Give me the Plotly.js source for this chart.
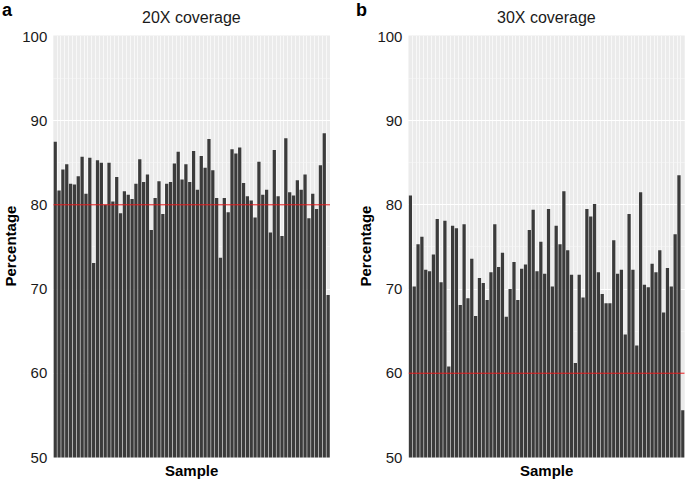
<!DOCTYPE html>
<html>
<head>
<meta charset="utf-8">
<script src="https://cdn.plot.ly/plotly-3.0.1.min.js"></script>
<style>
  body { margin: 0; background: #fff; }
  #graph { width: 685px; height: 480px; }
</style>
</head>
<body>
<div id="graph"></div>
<script>
// Per-sample coverage percentages.

const cov20 = [
  87.5, 81.7, 84.2, 84.8, 82.5, 82.4, 83.4, 85.7, 81.3, 85.6,
  73.1, 85.3, 85.0, 80.0, 85.0, 80.4, 83.3, 79.0, 81.6, 81.2,
  80.7, 82.5, 85.4, 82.7, 83.6, 77.0, 80.8, 82.8, 78.9, 82.5,
  82.7, 84.9, 86.3, 83.0, 84.8, 82.7, 86.4, 81.8, 85.8, 84.4,
  87.8, 84.1, 80.8, 73.7, 80.8, 79.1, 86.6, 86.1, 86.8, 82.6,
  81.0, 80.5, 78.5, 85.1, 81.2, 81.8, 76.7, 86.5, 81.0, 76.3,
  87.9, 81.5, 81.1, 82.9, 81.8, 83.6, 78.4, 81.3, 79.5, 84.7,
  88.5, 69.3,
];

const cov30 = [
  81.1, 70.3, 75.3, 76.2, 72.3, 72.1, 74.1, 78.3, 70.8, 78.1,
  60.8, 77.5, 77.2, 68.1, 77.7, 68.9, 73.6, 66.8, 71.3, 70.7,
  68.7, 72.0, 77.7, 72.6, 74.3, 66.7, 70.0, 73.2, 68.7, 72.4,
  72.9, 77.0, 79.4, 72.1, 75.6, 71.8, 79.5, 70.3, 77.5, 75.3,
  81.6, 74.6, 71.7, 61.2, 71.7, 69.0, 79.5, 78.6, 80.1, 72.0,
  69.4, 68.3, 68.3, 75.8, 71.8, 72.3, 64.6, 78.9, 72.3, 63.3,
  81.5, 70.5, 70.2, 73.0, 72.0, 74.6, 67.2, 72.5, 70.3, 76.5,
  83.5, 55.6,
];

const samples = cov20.map((v, i) => i + 1);
const thresholds = [80, 60];
const panelTitles = ["20X coverage", "30X coverage"];
const panelTags = ["a", "b"];
const yTicks = [50, 60, 70, 80, 90, 100];

const FONT = "Liberation Sans, Arial, Helvetica, sans-serif";
const BAR = "#3b3b3b";

const trace20 = {
  x: samples,
  y: cov20,
  type: "bar",
  xaxis: "x",
  yaxis: "y",
  marker: { color: BAR },
  hoverinfo: "y",
};

const trace30 = {
  x: samples,
  y: cov30,
  type: "bar",
  xaxis: "x2",
  yaxis: "y2",
  marker: { color: BAR },
  hoverinfo: "y",
};

function xAxis(domain, anchor) {
  return {
    domain: domain,
    anchor: anchor,
    range: [0.5, samples.length + 0.5],
    tick0: 0.5,
    dtick: 1,
    showticklabels: false,
    ticks: "",
    showgrid: true,
    gridcolor: "#f8f8f8",
    gridwidth: 1,
    zeroline: false,
    showline: false,
    layer: "below traces",
  };
}

function yAxis(anchor) {
  return {
    domain: [0.047, 0.926],
    anchor: anchor,
    range: [50, 100.1],
    tickvals: yTicks,
    ticks: "",
    ticklabelstandoff: 5,
    tickfont: { family: FONT, size: 15, color: "#1a1a1a" },
    showgrid: true,
    gridcolor: "#ffffff",
    gridwidth: 1,
    minor: { dtick: 5, tick0: 50, showgrid: true, gridcolor: "#f6f6f6", gridwidth: 0.6 },
    zeroline: false,
    showline: false,
  };
}

const layout = {
  width: 685,
  height: 480,
  margin: { l: 0, r: 0, t: 0, b: 0 },
  paper_bgcolor: "#ffffff",
  plot_bgcolor: "#ebebeb",
  showlegend: false,
  bargap: 0.15,
  xaxis: xAxis([0.0778, 0.4818], "y"),
  yaxis: yAxis("x"),
  xaxis2: xAxis([0.5963, 0.9996], "y2"),
  yaxis2: yAxis("x2"),
  shapes: [
    {
      type: "line", xref: "x", yref: "y",
      x0: 0.5, x1: samples.length + 0.5, y0: thresholds[0], y1: thresholds[0],
      line: { color: "#e41a1c", width: 1 },
    },
    {
      type: "line", xref: "x2", yref: "y2",
      x0: 0.5, x1: samples.length + 0.5, y0: thresholds[1], y1: thresholds[1],
      line: { color: "#e41a1c", width: 1 },
    },
  ],
  annotations: [
    // panel titles
    { text: panelTitles[0], xref: "x domain", yref: "paper", x: 0.5, y: 1 - 18 / 480,
      showarrow: false, yanchor: "middle", font: { family: FONT, size: 16, color: "#1a1a1a" } },
    { text: panelTitles[1], xref: "x2 domain", yref: "paper", x: 0.5, y: 1 - 18 / 480,
      showarrow: false, yanchor: "middle", font: { family: FONT, size: 16, color: "#1a1a1a" } },
    // panel tags
    { text: "<b>" + panelTags[0] + "</b>", xref: "paper", yref: "paper", x: 0, y: 1 - 10 / 480,
      xanchor: "left", yanchor: "middle", showarrow: false, font: { family: FONT, size: 18, color: "#000" } },
    { text: "<b>" + panelTags[1] + "</b>", xref: "paper", yref: "paper", x: 354 / 685, y: 1 - 10 / 480,
      xanchor: "left", yanchor: "middle", showarrow: false, font: { family: FONT, size: 18, color: "#000" } },
    // axis titles
    { text: "<b>Sample</b>", xref: "x domain", yref: "paper", x: 0.5, y: 1 - 470 / 480,
      showarrow: false, yanchor: "middle", font: { family: FONT, size: 15, color: "#000" } },
    { text: "<b>Sample</b>", xref: "x2 domain", yref: "paper", x: 0.5, y: 1 - 470 / 480,
      showarrow: false, yanchor: "middle", font: { family: FONT, size: 15, color: "#000" } },
    { text: "<b>Percentage</b>", xref: "paper", yref: "y domain", x: 10 / 685, y: 0.5, textangle: -90,
      showarrow: false, xanchor: "center", font: { family: FONT, size: 15, color: "#000" } },
    { text: "<b>Percentage</b>", xref: "paper", yref: "y2 domain", x: 365 / 685, y: 0.5, textangle: -90,
      showarrow: false, xanchor: "center", font: { family: FONT, size: 15, color: "#000" } },
  ],
};

const config = { responsive: false, displayModeBar: false, staticPlot: true };

Plotly.newPlot("graph", [trace20, trace30], layout, config);
</script>
</body>
</html>
